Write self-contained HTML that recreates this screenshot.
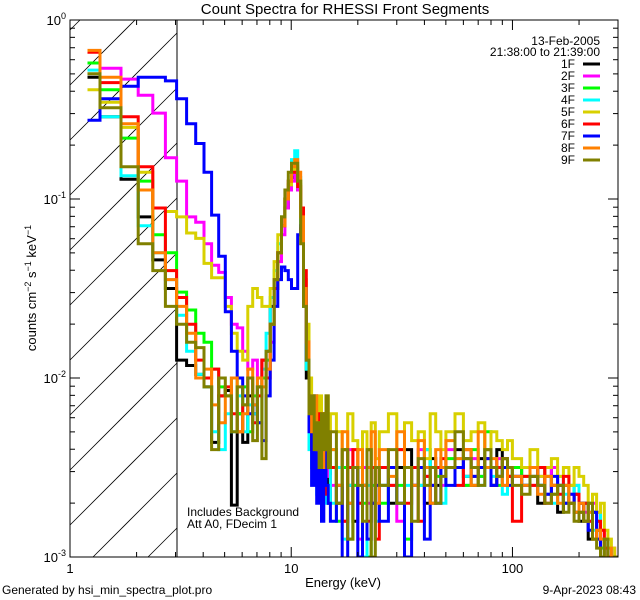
<!DOCTYPE html>
<html><head><meta charset="utf-8"><style>
html,body{margin:0;padding:0;background:#fff;width:640px;height:600px;overflow:hidden;}
svg{display:block;font-family:"Liberation Sans",sans-serif;}
</style></head><body>
<svg id="chart" width="640" height="600" viewBox="0 0 640 600" xmlns="http://www.w3.org/2000/svg">
<defs><clipPath id="pc"><rect x="70" y="20" width="548" height="537"/></clipPath></defs>
<rect width="640" height="600" fill="#fff"/>
<text x="345" y="14" font-size="15" text-anchor="middle">Count Spectra for RHESSI Front Segments</text>
<g id="hatch"></g>
<line x1="177" y1="20" x2="177" y2="557" stroke="#000" stroke-width="1"/>
<g id="series" clip-path="url(#pc)"></g>
<rect x="70" y="20" width="548" height="537" fill="none" stroke="#000" stroke-width="1"/>
<g id="axes"></g>
<text transform="translate(36,288) rotate(-90)" font-size="13" text-anchor="middle">counts cm<tspan font-size="9" dy="-5">−2</tspan><tspan dy="5"> s</tspan><tspan font-size="9" dy="-5">−1</tspan><tspan dy="5"> keV</tspan><tspan font-size="9" dy="-5">−1</tspan></text>
<text x="343" y="587" font-size="13" text-anchor="middle">Energy (keV)</text>
<text x="2" y="594" font-size="12">Generated by hsi_min_spectra_plot.pro</text>
<text x="636" y="594" font-size="12" text-anchor="end">9-Apr-2023 08:43</text>
<text x="187" y="516" font-size="12">Includes Background</text>
<text x="187" y="528" font-size="12">Att A0, FDecim 1</text>
<text x="600" y="45" font-size="12" text-anchor="end">13-Feb-2005</text>
<text x="600" y="56" font-size="12" text-anchor="end">21:38:00 to 21:39:00</text>
<g id="legend"></g>
</svg>
<script>
const seriesNames=["1F","2F","3F","4F","5F","6F","7F","8F","9F"];
const seriesColors=["#000000","#ff00ff","#00ff00","#00ffff","#d8d000","#ff0000","#0000ff","#ff8000","#808000"];
const lowBinStart=[1.2,1.3667];
const lowBinWidth=1/3, lowBinCount=42;
const highEdges=[16,17,18,19,20,21,22,23,24,25,27.5,30,32.5,35,37.5,40,42.5,45,47.5,50,55,60,65,70,75,80,85,90,95,100,110,120,130,140,150,160,170,180,190,200,210,220,230,240,250,260,270,280,290,300];
const logBlack=[-0.32,-0.54,-0.89,-1.1,-1.34,-1.5,-1.9,-1.93,-1.98,-2.05,-2.36,-2.1,-2.07,-2.71,-2.2,-2.36,-2.1,-2.2,-2.05,-1.9,-1.85,-1.6,-1.45,-1.3,-1.15,-1.05,-0.95,-0.88,-0.85,-0.95,-1.2,-1.6,-2.0,-2.2,-2.4,-2.1,-2.5,-2.3,-2.6,-2.2,-2.4,-2.7,
-2.5,-2.7,-2.4,-2.6,-2.8,-2.5,-2.6,-2.4,-2.7,-2.5,-2.6,-2.7,-2.5,-2.4,-2.6,-2.5,-2.7,-2.45,-2.6,-2.5,-2.5,-2.4,-2.55,-2.6,-2.45,-2.5,-2.6,-2.4,-2.5,-2.55,-2.5,-2.6,-2.55,-2.7,-2.5,-2.6,-2.75,-2.6,-2.7,-2.65,-2.8,-2.7,-2.9,-2.75,-2.85,-3.0,-2.9,-3.0,-3.1,-3.05];
const logMagenta=[-0.24,-0.27,-0.33,-0.42,-0.52,-0.77,-0.9,-1.1,-1.13,-1.25,-1.37,-1.41,-1.55,-1.7,-1.72,-1.85,-1.95,-1.9,-2.0,-1.9,-1.95,-1.8,-1.5,-1.35,-1.2,-1.05,-0.95,-0.9,-0.85,-0.95,-1.15,-1.55,-1.9,-2.2,-2.4,-2.2,-2.5,-2.35,-2.6,-2.4,-2.3,-2.55,
-2.6,-2.5,-2.8,-2.4,-2.6,-2.9,-2.5,-2.7,-2.5,-2.6,-2.5,-2.6,-2.8,-2.5,-2.6,-2.4,-2.55,-2.7,-2.5,-2.6,-2.4,-2.5,-2.6,-2.45,-2.55,-2.4,-2.5,-2.45,-2.6,-2.5,-2.55,-2.5,-2.6,-2.55,-2.65,-2.5,-2.6,-2.7,-2.65,-2.6,-2.7,-2.75,-2.8,-2.7,-2.9,-2.85,-2.95,-3.0,-2.95,-3.1];
const logGreen=[-0.24,-0.39,-0.66,-0.9,-1.2,-1.3,-1.52,-1.62,-1.75,-1.8,-1.95,-2.05,-2.1,-2.0,-2.2,-2.05,-2.3,-2.1,-2.25,-2.0,-1.9,-1.7,-1.5,-1.3,-1.15,-1.0,-0.92,-0.85,-0.83,-0.92,-1.15,-1.6,-1.95,-2.3,-2.2,-2.5,-2.4,-2.2,-2.6,-2.35,-2.25,-2.5,
-2.4,-2.8,-2.5,-2.9,-2.6,-2.5,-2.7,-3.0,-2.6,-2.5,-2.7,-2.5,-2.6,-2.9,-2.5,-2.6,-2.4,-2.7,-2.55,-2.5,-2.45,-2.5,-2.6,-2.4,-2.55,-2.3,-2.5,-2.6,-2.45,-2.55,-2.5,-2.55,-2.5,-2.6,-2.55,-2.65,-2.6,-2.7,-2.6,-2.75,-2.7,-2.8,-2.75,-2.9,-2.8,-2.95,-2.9,-3.0,-3.05,-3.1];
const logCyan=[-0.28,-0.54,-0.87,-1.15,-1.3,-1.45,-1.65,-1.85,-1.98,-2.05,-2.3,-2.4,-2.2,-2.3,-2.1,-2.3,-2.15,-2.2,-2.0,-1.95,-1.75,-1.55,-1.4,-1.25,-1.1,-1.0,-0.9,-0.78,-0.73,-0.88,-1.15,-1.6,-1.95,-2.4,-2.5,-2.3,-2.65,-2.4,-2.5,-2.7,-2.4,-2.5,
-2.7,-2.5,-2.9,-2.6,-2.5,-2.7,-3.0,-2.6,-2.5,-2.8,-2.6,-2.5,-2.7,-2.6,-2.5,-2.6,-2.4,-2.6,-2.5,-2.7,-2.5,-2.45,-2.55,-2.5,-2.6,-2.4,-2.55,-2.5,-2.65,-2.5,-2.55,-2.6,-2.5,-2.6,-2.65,-2.7,-2.55,-2.65,-2.7,-2.6,-2.75,-2.8,-2.7,-2.85,-2.75,-2.9,-3.0,-2.95,-3.05,-3.0];
const logYellow=[-0.39,-0.46,-0.6,-0.85,-1.05,-1.07,-1.1,-1.19,-1.22,-1.36,-1.44,-1.44,-1.6,-1.75,-1.85,-1.9,-1.6,-1.5,-1.55,-1.6,-1.6,-1.5,-1.35,-1.2,-1.1,-1.0,-0.92,-0.85,-0.82,-0.9,-1.1,-1.45,-1.7,-2.0,-2.15,-2.25,-2.2,-2.1,-2.35,-2.2,-2.1,-2.3,
-2.2,-2.3,-2.4,-2.2,-2.35,-2.5,-2.3,-2.4,-2.25,-2.45,-2.3,-2.2,-2.4,-2.25,-2.35,-2.3,-2.45,-2.2,-2.3,-2.4,-2.3,-2.2,-2.35,-2.3,-2.25,-2.4,-2.3,-2.35,-2.4,-2.35,-2.45,-2.5,-2.4,-2.55,-2.5,-2.45,-2.55,-2.5,-2.6,-2.5,-2.55,-2.6,-2.7,-2.65,-2.75,-2.7,-2.85,-2.9,-2.95,-3.0];
const logRed=[-0.18,-0.35,-0.54,-0.82,-1.05,-1.4,-1.55,-1.7,-1.9,-2.0,-1.95,-2.1,-2.05,-2.2,-2.3,-2.15,-2.0,-2.25,-2.1,-1.9,-2.0,-1.7,-1.5,-1.3,-1.15,-1.0,-0.9,-0.85,-0.85,-0.93,-1.05,-1.4,-1.8,-2.2,-2.4,-2.3,-2.6,-2.2,-2.5,-2.65,-2.3,-2.5,
-2.5,-2.6,-2.8,-2.5,-2.4,-2.7,-2.6,-2.8,-2.5,-2.9,-2.5,-2.6,-2.4,-2.7,-2.5,-2.8,-2.55,-2.6,-2.5,-2.45,-2.5,-2.6,-2.4,-2.55,-2.5,-2.45,-2.6,-2.5,-2.45,-2.55,-2.8,-2.55,-2.6,-2.5,-2.7,-2.6,-2.65,-2.55,-2.7,-2.65,-2.75,-2.7,-2.8,-2.9,-2.8,-2.85,-2.95,-3.0,-3.1,-3.0];
const logBlue=[-0.56,-0.44,-0.37,-0.32,-0.32,-0.34,-0.44,-0.58,-0.69,-0.85,-1.09,-1.32,-1.63,-1.85,-2.0,-2.1,-2.2,-2.15,-2.25,-2.35,-2.1,-1.9,-1.6,-1.45,-1.38,-1.4,-1.45,-1.5,-1.5,-1.2,-1.15,-1.5,-1.9,-2.3,-2.6,-2.4,-2.7,-2.5,-2.8,-2.4,-2.6,-2.7,
-2.8,-2.6,-3.1,-2.7,-2.5,-3.0,-2.6,-2.9,-2.7,-2.6,-2.8,-2.5,-2.7,-3.0,-2.6,-2.5,-2.9,-2.6,-2.7,-2.5,-2.6,-2.5,-2.45,-2.55,-2.5,-2.45,-2.6,-2.55,-2.5,-2.6,-2.55,-2.6,-2.5,-2.6,-2.65,-2.55,-2.6,-2.7,-2.65,-2.75,-2.7,-2.8,-2.85,-2.75,-2.9,-3.0,-3.1,-3.05,-3.2,-3.1];
const logOrange=[-0.17,-0.32,-0.58,-0.95,-1.3,-1.45,-1.6,-1.75,-2.0,-1.95,-2.15,-2.25,-2.1,-2.0,-2.3,-2.2,-1.95,-2.15,-2.0,-2.05,-1.95,-1.7,-1.45,-1.3,-1.15,-1.0,-0.9,-0.82,-0.78,-0.85,-1.1,-1.5,-1.8,-2.1,-2.3,-2.1,-2.4,-2.25,-2.5,-2.2,-2.4,-2.3,
-2.4,-2.6,-2.3,-2.7,-2.5,-2.4,-2.6,-2.5,-2.3,-2.7,-2.4,-2.55,-2.3,-2.5,-2.6,-2.35,-2.5,-2.7,-2.4,-2.5,-2.35,-2.45,-2.4,-2.6,-2.3,-2.5,-2.45,-2.55,-2.6,-2.5,-2.55,-2.6,-2.5,-2.65,-2.55,-2.6,-2.7,-2.6,-2.7,-2.75,-2.7,-2.8,-2.75,-2.9,-2.85,-2.9,-3.0,-2.95,-3.05,-3.0];
const logOlive=[-0.30,-0.49,-0.82,-1.25,-1.4,-1.6,-1.7,-1.8,-1.83,-2.05,-2.4,-2.0,-2.1,-2.3,-2.05,-2.15,-2.0,-2.35,-2.05,-2.45,-1.85,-1.7,-1.45,-1.3,-1.1,-0.95,-0.85,-0.8,-0.8,-0.9,-1.25,-1.6,-1.9,-2.2,-2.1,-2.4,-2.25,-2.5,-2.2,-2.4,-2.1,-2.5,
-2.3,-2.7,-2.4,-2.9,-2.5,-2.6,-2.8,-2.4,-3.0,-2.5,-2.6,-2.4,-2.7,-2.5,-2.8,-2.45,-2.6,-2.5,-2.7,-2.55,-2.5,-2.3,-2.45,-2.5,-2.6,-2.4,-2.5,-2.55,-2.45,-2.5,-2.6,-2.65,-2.55,-2.6,-2.7,-2.65,-2.6,-2.75,-2.7,-2.8,-2.75,-2.8,-2.7,-2.9,-2.95,-3.0,-2.9,-3.1,-3.05,-3.0];
const seriesLogValues=[logBlack,logMagenta,logGreen,logCyan,logYellow,logRed,logBlue,logOrange,logOlive];
const xTickLabels=["1","10","100"];
const yTickExps=["0","-1","-2","-3"];

const NS="http://www.w3.org/2000/svg";
const L=70,R=618,T=20,B=557;
const xMin=0,xMax=Math.log10(300);
function xs(e){return L+(Math.log10(e)-xMin)/(xMax-xMin)*(R-L);}
function ys(lg){return T+(0-lg)/3*(B-T);}
function mk(tag,attrs,parent){const el=document.createElementNS(NS,tag);for(const k in attrs)el.setAttribute(k,attrs[k]);parent.appendChild(el);return el;}

const edges=[lowBinStart[0]];
for(let i=0;i<lowBinCount;i++)edges.push(lowBinStart[1]+i*lowBinWidth);
highEdges.forEach(e=>edges.push(e));

// hatch lines (slope 45°, clipped geometrically to the region x 70..177, y 20..557)
const hatch=document.getElementById('hatch');
const HX0=70,HX1=177;
for(let k=-2;k<14;k++){
  const c=85+k*55; // y at x=70; line: y = c - (x-70)
  let xa=HX0, xb=HX1;
  // y within [T,B]: c-(x-70)<=B -> x>=70+c-B ; c-(x-70)>=T -> x<=70+c-T
  xa=Math.max(xa,70+c-B); xb=Math.min(xb,70+c-T);
  if(xb<=xa)continue;
  const ln=mk('line',{x1:xa,y1:c-(xa-70),x2:xb,y2:c-(xb-70),stroke:'#000','stroke-width':0.8},hatch);
  
  
}

const sg=document.getElementById('series');
seriesLogValues.forEach((vals,si)=>{
  let d='';
  vals.forEach((v,i)=>{
    const x0=xs(edges[i]),x1=xs(edges[i+1]),y=Math.min(ys(v),B+2);
    d+=(i===0?'M':'L')+x0.toFixed(1)+','+y.toFixed(1)+'L'+x1.toFixed(1)+','+y.toFixed(1);
  });
  const p=mk('path',{d:d,fill:'none',stroke:seriesColors[si],'stroke-width':3,'stroke-linejoin':'miter'},sg);
  
  
});

const ax=document.getElementById('axes');
for(let dec=0;dec<3;dec++){
  for(let m=1;m<10;m++){
    const e=Math.pow(10,dec)*m; if(e>300)break;
    const x=xs(e),len=m===1?10:5;
    const t1=mk('line',{x1:x,y1:B,x2:x,y2:B-len,stroke:'#000'},ax);
    
    
    const t2=mk('line',{x1:x,y1:T,x2:x,y2:T+len,stroke:'#000'},ax);
    
    
  }
}
xTickLabels.forEach(lab=>{
  const t=mk('text',{x:xs(parseFloat(lab)),y:B+16,'font-size':13,'text-anchor':'middle'},ax);
  t.textContent=lab;
  
  
});
for(let dec=-3;dec<0;dec++){
  for(let m=1;m<=10;m++){
    const lg=dec+Math.log10(m);
    const y=ys(lg),len=(m===1||m===10)?10:5;
    const t1=mk('line',{x1:L,y1:y,x2:L+len,y2:y,stroke:'#000'},ax);
    
    
    const t2=mk('line',{x1:R,y1:y,x2:R-len,y2:y,stroke:'#000'},ax);
    
    
  }
}
yTickExps.forEach(ex=>{
  const y=ys(parseFloat(ex));
  const t=mk('text',{x:L-4,y:y+5,'font-size':13,'text-anchor':'end'},ax);
  t.innerHTML='10<tspan font-size="9" dy="-6">'+ex+'</tspan>';
  
  
});

const lg=document.getElementById('legend');
seriesNames.forEach((n,i)=>{
  const y=64+i*12;
  const t=mk('text',{x:575,y:y+4,'font-size':12,'text-anchor':'end'},lg);
  t.textContent=n;
  
  
  const l=mk('line',{x1:583,y1:y,x2:600,y2:y,stroke:seriesColors[i],'stroke-width':3},lg);
  
  
});
</script>
</body></html>
